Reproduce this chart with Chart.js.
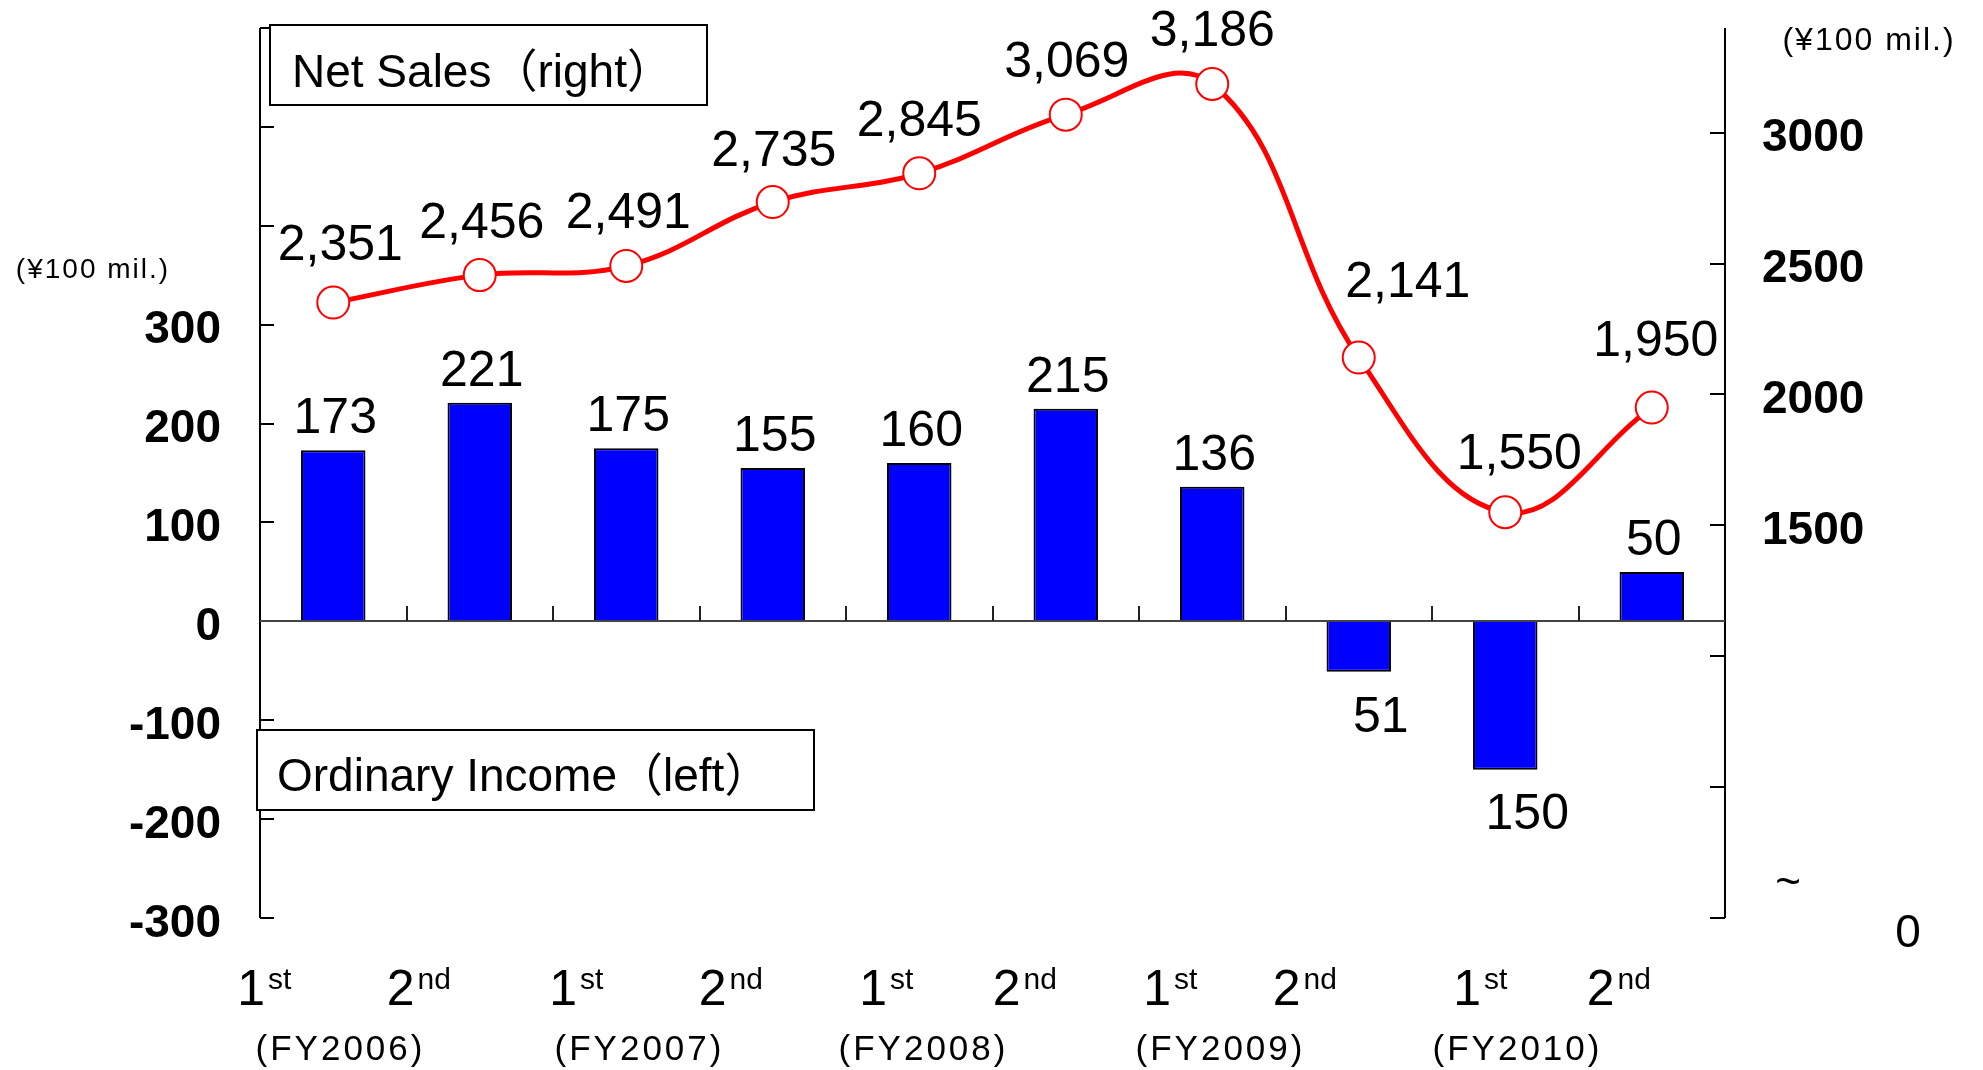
<!DOCTYPE html>
<html>
<head>
<meta charset="utf-8">
<script src="https://cdn.jsdelivr.net/npm/chart.js@4/dist/chart.umd.min.js"></script>
<style>
html,body{margin:0;padding:0;background:#fff;overflow:hidden}
canvas{display:block}
</style>
</head>
<body>
<canvas id="c" width="1983" height="1070" style="width:1983px;height:1070px"></canvas>
<script>
// ---- data ----
const halfNumbers = ['1','2','1','2','1','2','1','2','1','2'];
const halfSuffixes = ['st','nd','st','nd','st','nd','st','nd','st','nd'];
const categories = halfNumbers.map((n, i) => n + halfSuffixes[i]);
const fiscalYears = ['FY2006','FY2007','FY2008','FY2009','FY2010'];
const ordinaryIncome = [173, 221, 175, 155, 160, 215, 136, -51, -150, 50];
const netSales = [2351, 2456, 2491, 2735, 2845, 3069, 3186, 2141, 1550, 1950];
const leftTickValues = [-300, -200, -100, 0, 100, 200, 300, 400, 500, 600];
const leftTickLabels = ['-300', '-200', '-100', '0', '100', '200', '300', '', '', ''];
const rightTickValues = [0, 500, 1000, 1500, 2000, 2500, 3000];
const rightTickLabels = ['', '', '', '1500', '2000', '2500', '3000'];
const seriesNames = ['Net Sales（right）', 'Ordinary Income（left）'];
const unitLabel = '(¥100 mil.)';

// ---- layout / style (not data) ----
const FONT = '"Liberation Sans", Arial, "Noto Sans CJK JP", sans-serif';
const xLabelShift = [-69, -61, -50, -42, -33, -41, -42, -54, -25, -33];
const fyShift = [-66, -60, -69, -65, -61];
const salesLabelShift = [[7,-56],[2,-51],[2,-52],[1,-50],[0,-51],[1,-51],[0,-52],[49,-74],[14,-57],[4,-65]];

const overlay = {
  id: 'overlay',
  beforeDatasetsDraw(chart) {
    const {ctx, chartArea: a, scales} = chart;
    const yL = scales.yL, yR = scales.yR;
    ctx.save();
    ctx.strokeStyle = '#000';
    ctx.lineWidth = 2;
    ctx.beginPath();
    ctx.moveTo(a.left, a.top); ctx.lineTo(a.left, a.bottom);
    leftTickValues.forEach(v => {
      const y = Math.round(yL.getPixelForValue(v));
      ctx.moveTo(a.left, y); ctx.lineTo(a.left + 14, y);
    });
    ctx.moveTo(a.right, a.top); ctx.lineTo(a.right, a.bottom);
    rightTickValues.forEach(v => {
      const y = Math.round(yR.getPixelForValue(v));
      ctx.moveTo(a.right, y); ctx.lineTo(a.right - 15, y);
    });
    ctx.stroke();
    ctx.restore();
  },
  afterDatasetsDraw(chart) {
    const {ctx, chartArea: a, scales} = chart;
    const x = scales.x, yL = scales.yL;
    const y0 = Math.round(yL.getPixelForValue(0));
    ctx.save();
    // zero line
    ctx.strokeStyle = '#444';
    ctx.lineWidth = 2;
    ctx.beginPath();
    ctx.moveTo(a.left, y0); ctx.lineTo(a.right, y0);
    ctx.stroke();
    // category boundary ticks
    ctx.strokeStyle = '#222';
    ctx.beginPath();
    for (let i = 0; i < categories.length - 1; i++) {
      const bx = Math.round((x.getPixelForValue(i) + x.getPixelForValue(i + 1)) / 2);
      ctx.moveTo(bx, y0); ctx.lineTo(bx, y0 - 15);
    }
    ctx.stroke();

    // data labels
    ctx.fillStyle = '#000';
    ctx.font = '50px ' + FONT;
    ctx.textAlign = 'center';
    ctx.textBaseline = 'middle';
    const barMeta = chart.getDatasetMeta(1);
    barMeta.data.forEach((el, i) => {
      const v = ordinaryIncome[i];
      if (v >= 0) ctx.fillText(String(Math.abs(v)), el.x + 2, el.y - 31);
      else ctx.fillText(String(Math.abs(v)), el.x + 22, el.y + 46);
    });
    const lineMeta = chart.getDatasetMeta(0);
    lineMeta.data.forEach((el, i) => {
      const s = salesLabelShift[i];
      ctx.fillText(netSales[i].toLocaleString('en-US'), el.x + s[0], el.y + s[1]);
    });
    ctx.restore();
  },
  afterDraw(chart) {
    const {ctx, chartArea: a, scales} = chart;
    const x = scales.x, yL = scales.yL, yR = scales.yR;
    ctx.save();
    ctx.fillStyle = '#000';
    // left axis labels
    ctx.font = 'bold 46px ' + FONT;
    ctx.textBaseline = 'middle';
    ctx.textAlign = 'right';
    leftTickValues.forEach((v, i) => {
      if (leftTickLabels[i]) ctx.fillText(leftTickLabels[i], 221, yL.getPixelForValue(v) + 6);
    });
    // right axis labels
    ctx.textAlign = 'left';
    rightTickValues.forEach((v, i) => {
      if (rightTickLabels[i]) ctx.fillText(rightTickLabels[i], 1762, yR.getPixelForValue(v) + 6);
    });
    // broken axis marks
    ctx.font = '46px ' + FONT;
    ctx.textAlign = 'center';
    ctx.fillText('0', 1908, 934);
    ctx.font = '44px ' + FONT;
    ctx.fillText('~', 1788, 884);
    // units
    ctx.textAlign = 'center';
    try { ctx.letterSpacing = '2px'; } catch (e) {}
    ctx.font = '28px ' + FONT;
    ctx.fillText(unitLabel, 93, 270);
    ctx.font = '32px ' + FONT;
    ctx.fillText(unitLabel, 1869, 41);
    try { ctx.letterSpacing = '0px'; } catch (e) {}

    // x labels
    ctx.textBaseline = 'alphabetic';
    ctx.textAlign = 'left';
    const bigF = '50px ' + FONT, smallF = '30px ' + FONT;
    categories.forEach((c, i) => {
      ctx.font = bigF;
      const w1 = ctx.measureText(halfNumbers[i]).width;
      ctx.font = smallF;
      const w2 = ctx.measureText(halfSuffixes[i]).width;
      const cx = x.getPixelForValue(i) + xLabelShift[i];
      const left = cx - (w1 + 3 + w2) / 2;
      ctx.font = bigF;
      ctx.fillText(halfNumbers[i], left, 1005);
      ctx.font = smallF;
      ctx.fillText(halfSuffixes[i], left + w1 + 3, 989);
    });
    ctx.font = '35px ' + FONT;
    ctx.textAlign = 'center';
    try { ctx.letterSpacing = '3px'; } catch (e) {}
    fiscalYears.forEach((fy, k) => {
      const mid = (x.getPixelForValue(2 * k) + x.getPixelForValue(2 * k + 1)) / 2 + fyShift[k];
      ctx.fillText('(' + fy + ')', mid, 1060);
    });
    try { ctx.letterSpacing = '0px'; } catch (e) {}

    // legend boxes
    ctx.lineWidth = 2;
    ctx.strokeStyle = '#000';
    ctx.fillStyle = '#fff';
    ctx.fillRect(270, 25, 437, 80);
    ctx.strokeRect(270, 25, 437, 80);
    ctx.fillRect(257, 730, 557, 80);
    ctx.strokeRect(257, 730, 557, 80);
    ctx.fillStyle = '#000';
    ctx.font = '46px ' + FONT;
    ctx.textAlign = 'left';
    ctx.textBaseline = 'alphabetic';
    ctx.fillText(seriesNames[0], 292, 87);
    ctx.fillText(seriesNames[1], 277, 791);
    ctx.restore();
  }
};

new Chart(document.getElementById('c').getContext('2d'), {
  data: {
    labels: categories,
    datasets: [
      {
        type: 'line',
        label: seriesNames[0],
        data: netSales,
        yAxisID: 'yR',
        borderColor: '#FF0000',
        borderWidth: 5,
        tension: 0.4,
        pointRadius: 16,
        pointBackgroundColor: '#FFFFFF',
        pointBorderColor: '#FF0000',
        pointBorderWidth: 2,
        order: 0,
        clip: false
      },
      {
        type: 'bar',
        label: seriesNames[1],
        data: ordinaryIncome,
        yAxisID: 'yL',
        backgroundColor: '#0000FF',
        borderColor: '#000000',
        borderWidth: 2,
        barPercentage: 0.44,
        categoryPercentage: 1,
        order: 1
      }
    ]
  },
  options: {
    responsive: false,
    animation: false,
    devicePixelRatio: 1,
    layout: { padding: { left: 260, right: 258, top: 28, bottom: 152 } },
    plugins: { legend: { display: false }, tooltip: { enabled: false } },
    scales: {
      x: { display: false, offset: true },
      yL: { display: false, position: 'left', min: -300, max: 600 },
      yR: { display: false, position: 'right', min: 0, max: 3400 }
    }
  },
  plugins: [overlay]
});
</script>
</body>
</html>
